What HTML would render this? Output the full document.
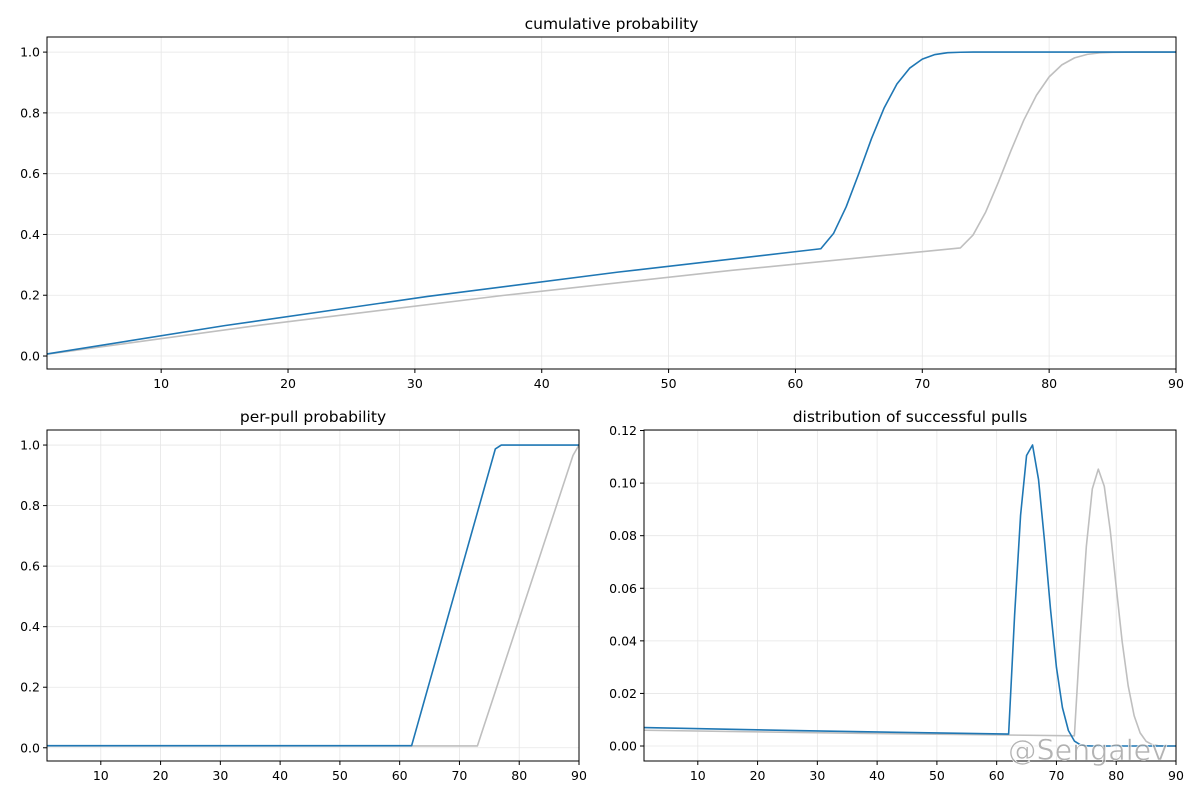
<!DOCTYPE html>
<html><head><meta charset="utf-8">
<style>
body{margin:0;background:#fff;}
svg{display:block;font-family:"DejaVu Sans","Liberation Sans",sans-serif;}
</style></head>
<body>
<svg id="fig" width="1200" height="800" viewBox="0 0 1200 800"></svg>
<script>
// ---- data ----
const bluePerPullX = [1,62,63,64,65,66,67,68,69,70,71,72,73,74,75,76,77,90];
const bluePerPullY = [0.007,0.007,0.077,0.147,0.217,0.287,0.357,0.427,0.497,0.567,0.637,0.707,0.777,0.847,0.917,0.987,1,1];
const grayPerPullX = [1,73,74,75,76,77,78,79,80,81,82,83,84,85,86,87,88,89,90];
const grayPerPullY = [0.006,0.006,0.066,0.126,0.186,0.246,0.306,0.366,0.426,0.486,0.546,0.606,0.666,0.726,0.786,0.846,0.906,0.966,1];

const blueCumX = [1,15,31,46,62,63,64,65,66,67,68,69,70,71,72,73,74,90];
const blueCumY = [0.007,0.100,0.196,0.276,0.353,0.403,0.491,0.601,0.716,0.817,0.895,0.947,0.977,0.992,0.998,0.9995,1,1];
const grayCumX = [1,18,37,55,73,74,75,76,77,78,79,80,81,82,83,84,85,86,87,90];
const grayCumY = [0.006,0.1027,0.1996,0.282,0.3555,0.398,0.474,0.572,0.677,0.776,0.858,0.9185,0.958,0.981,0.9925,0.9975,0.9993,0.99985,1,1];

const blueDistX = [1,31,62,63,64,65,66,67,68,69,70,71,72,73,74,75,76,90];
const blueDistY = [0.007,0.00567,0.00456,0.0498,0.0878,0.1105,0.1145,0.1014,0.0781,0.0522,0.0299,0.0146,0.0059,0.0019,0.00046,0.00008,0,0];
const grayDistX = [1,37,73,74,75,76,77,78,79,80,81,82,83,84,85,86,87,88,90];
const grayDistY = [0.006,0.00483,0.00389,0.0425,0.0759,0.0978,0.1053,0.0988,0.0820,0.0605,0.0396,0.0229,0.0115,0.0050,0.0018,0.00054,0.00012,0,0];

const xTicks = [10,20,30,40,50,60,70,80,90];
const yTicksProb = [0,0.2,0.4,0.6,0.8,1.0];
const yTickLabelsProb = ["0.0","0.2","0.4","0.6","0.8","1.0"];
const yTicksDist = [0,0.02,0.04,0.06,0.08,0.10,0.12];
const yTickLabelsDist = ["0.00","0.02","0.04","0.06","0.08","0.10","0.12"];

const NS = "http://www.w3.org/2000/svg";
const fig = document.getElementById('fig');
function mk(tag, attrs, parent){
  const e = document.createElementNS(NS, tag);
  for (const k in attrs) e.setAttribute(k, attrs[k]);
  (parent||fig).appendChild(e); return e;
}

function panel(name, box, ymin, ymax, yt, ytl, title, series){
  const g = mk('g', {});
  
  
  const sx = v => box.x0 + (v - 1) / 89 * (box.x1 - box.x0);
  const sy = v => box.y1 - (v - ymin) / (ymax - ymin) * (box.y1 - box.y0);
  xTicks.forEach(t => {
    const l = mk('line', {x1:sx(t), x2:sx(t), y1:box.y0, y2:box.y1, stroke:'#e6e6e6', 'stroke-width':0.8}, g);
    
    
  });
  yt.forEach(t => {
    const l = mk('line', {x1:box.x0, x2:box.x1, y1:sy(t), y2:sy(t), stroke:'#e6e6e6', 'stroke-width':0.8}, g);
    
    
  });
  const cid = name + '-clip';
  const cp = mk('clipPath', {id:cid}, g);
  mk('rect', {x:box.x0, y:box.y0, width:box.x1-box.x0, height:box.y1-box.y0}, cp);
  series.forEach(s => {
    const pts = s.x.map((v,i) => sx(v).toFixed(2) + ',' + sy(s.y[i]).toFixed(2)).join(' ');
    const p = mk('polyline', {points:pts, fill:'none', stroke:s.color, 'stroke-width':1.6, 'clip-path':'url(#'+cid+')', 'stroke-linejoin':'round'}, g);
    
    
  });
  const fr = mk('rect', {x:box.x0, y:box.y0, width:box.x1-box.x0, height:box.y1-box.y0, fill:'none', stroke:'#000', 'stroke-width':1}, g);
  
  
  xTicks.forEach(t => {
    mk('line', {x1:sx(t), x2:sx(t), y1:box.y1, y2:box.y1+4, stroke:'#000', 'stroke-width':1}, g);
    const tx = mk('text', {x:sx(t), y:box.y1+19, 'font-size':12.5, 'text-anchor':'middle', fill:'#000'}, g);
    tx.textContent = t;
    
    
  });
  yt.forEach((t,i) => {
    mk('line', {x1:box.x0-4, x2:box.x0, y1:sy(t), y2:sy(t), stroke:'#000', 'stroke-width':1}, g);
    const tx = mk('text', {x:box.x0-7, y:sy(t)+4.5, 'font-size':12.5, 'text-anchor':'end', fill:'#000'}, g);
    tx.textContent = ytl[i];
    
    
  });
  const tt = mk('text', {x:(box.x0+box.x1)/2, y:box.y0-8, 'font-size':15.5, 'text-anchor':'middle', fill:'#000'}, g);
  tt.textContent = title;
  
  
}

panel('cumulative-panel', {x0:47,x1:1176,y0:37,y1:369}, -0.0427, 1.0497, yTicksProb, yTickLabelsProb, 'cumulative probability',
  [{x:grayCumX,y:grayCumY,color:'#bfbfbf',name:'gray-cumulative-line'},
   {x:blueCumX,y:blueCumY,color:'#1f77b4',name:'blue-cumulative-line'}]);
panel('per-pull-panel', {x0:47,x1:579,y0:430,y1:761}, -0.0437, 1.0497, yTicksProb, yTickLabelsProb, 'per-pull probability',
  [{x:grayPerPullX,y:grayPerPullY,color:'#bfbfbf',name:'gray-per-pull-line'},
   {x:bluePerPullX,y:bluePerPullY,color:'#1f77b4',name:'blue-per-pull-line'}]);
panel('distribution-panel', {x0:644,x1:1176,y0:430,y1:761}, -0.0057, 0.1202, yTicksDist, yTickLabelsDist, 'distribution of successful pulls',
  [{x:grayDistX,y:grayDistY,color:'#bfbfbf',name:'gray-distribution-line'},
   {x:blueDistX,y:blueDistY,color:'#1f77b4',name:'blue-distribution-line'}]);

const wm = mk('text', {x:1008, y:760, 'font-size':28.5, fill:'#9a9a9a', 'fill-opacity':0.75, stroke:'#fff', 'stroke-width':0.6, textLength:160, lengthAdjust:'spacingAndGlyphs'});
wm.textContent = '@Sengalev';


</script>
</body></html>
